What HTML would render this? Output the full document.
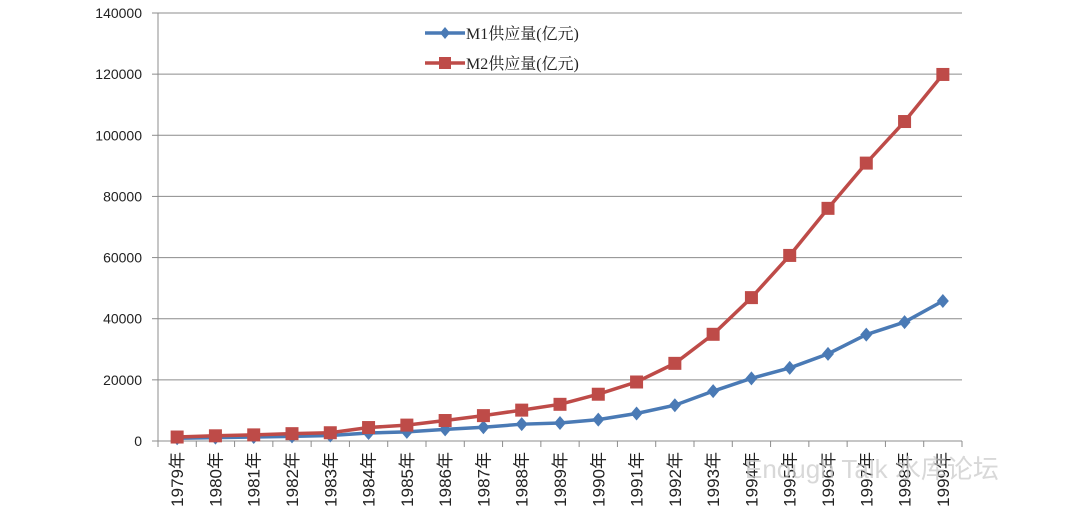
<!DOCTYPE html>
<html><head><meta charset="utf-8"><style>
body{margin:0;background:#fff;width:1090px;height:524px;overflow:hidden}
svg{display:block;font-family:"Liberation Sans","Noto Sans CJK SC",sans-serif}
</style></head><body>
<svg id="chart" width="1090" height="524"></svg>
<script>
const categories=["1979年","1980年","1981年","1982年","1983年","1984年","1985年","1986年","1987年","1988年","1989年","1990年","1991年","1992年","1993年","1994年","1995年","1996年","1997年","1998年","1999年"];
const m1Values=[900,1100,1300,1500,1800,2600,3000,3800,4500,5500,5900,7000,9000,11700,16300,20500,23900,28500,34800,38900,45800];
const m2Values=[1300,1700,2000,2400,2700,4400,5200,6700,8300,10100,12000,15300,19300,25400,34900,46900,60700,76100,90900,104500,119900];
const yTicks=[0,20000,40000,60000,80000,100000,120000,140000];
const seriesNames=["M1供应量(亿元)","M2供应量(亿元)"];
const NS="http://www.w3.org/2000/svg",svg=document.getElementById('chart');
const L=158,R=962,T=13,B=441,yMax=140000;
const cw=(R-L)/categories.length;
const xs=i=>L+cw*(i+0.5), ys=v=>B-(v/yMax)*(B-T);
function mk(tag,attrs,parent){const e=document.createElementNS(NS,tag);for(const k in attrs)e.setAttribute(k,attrs[k]);(parent||svg).appendChild(e);return e;}
const grid=mk('g',{});


yTicks.forEach(v=>{
  if(v>0){const l=mk('line',{x1:L,x2:R,y1:ys(v),y2:ys(v),stroke:'#8c8c8c','stroke-width':1},grid);
  
  }
  const t=mk('text',{x:L-16,y:ys(v)+5,'text-anchor':'end','font-size':14,fill:'#222'});
  t.textContent=v;
  
  
});
const ya=mk('line',{x1:L,x2:L,y1:T,y2:B,stroke:'#8c8c8c'});


const xa=mk('line',{x1:L-6,x2:R,y1:B,y2:B,stroke:'#8c8c8c'});


for(let i=0;i<=categories.length;i++){
  const tk=mk('line',{x1:L+cw*i,x2:L+cw*i,y1:B,y2:B+6,stroke:'#8c8c8c'});
  
  
}
yTicks.forEach(v=>{const tk=mk('line',{x1:L-6,x2:L,y1:ys(v),y2:ys(v),stroke:'#8c8c8c'});

});
categories.forEach((c,i)=>{
  const x=xs(i)+6,y=452;
  const t=mk('text',{x:x,y:y,'text-anchor':'end','font-size':17,fill:'#222',transform:`rotate(-90 ${x} ${y})`});
  t.textContent=c;
  
  
});
function series(vals,color,marker,name){
  const g=mk('g',{});
  
  
  mk('polyline',{points:vals.map((v,i)=>xs(i)+','+ys(v)).join(' '),fill:'none',stroke:color,'stroke-width':3.5},g);
  vals.forEach((v,i)=>{
    let m;
    if(marker==='sq'){m=mk('rect',{x:xs(i)-6.5,y:ys(v)-6.5,width:13,height:13,fill:color},g);}
    else{const x=xs(i),y=ys(v);m=mk('polygon',{points:`${x},${y-7} ${x+6},${y} ${x},${y+7} ${x-6},${y}`,fill:color},g);}
    
    
  });
}
series(m1Values,'#4a7ab5','dia','m1-series');
series(m2Values,'#be4b48','sq','m2-series');
[['#4a7ab5','dia'],['#be4b48','sq']].forEach((s,k)=>{
  const y=33+k*30;
  const g=mk('g',{});
  
  
  mk('line',{x1:425,x2:465,y1:y,y2:y,stroke:s[0],'stroke-width':3.5},g);
  if(s[1]==='sq')mk('rect',{x:439,y:y-6,width:12,height:12,fill:s[0]},g);
  else mk('polygon',{points:`445,${y-6} 450,${y} 445,${y+6} 440,${y}`,fill:s[0]},g);
  const t=mk('text',{x:466,y:y+6,'font-size':16,fill:'#222','font-family':'"Liberation Serif","Noto Serif CJK SC",serif'},g);
  t.textContent=seriesNames[k];
});
const wm=mk('text',{x:745,y:478,'font-size':26,fill:'#c8c8c8','fill-opacity':0.7});
wm.textContent='Enough Talk 水库论坛';


</script>
</body></html>
